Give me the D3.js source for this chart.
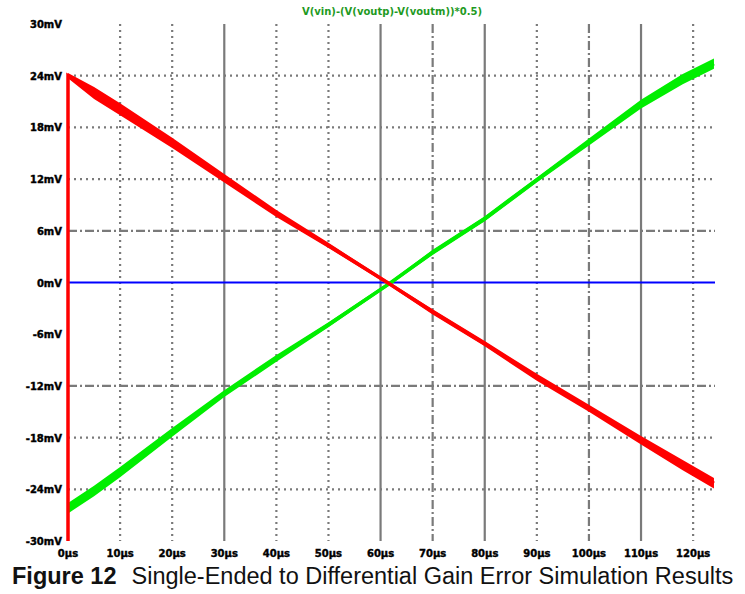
<!DOCTYPE html>
<html>
<head>
<meta charset="utf-8">
<script src="https://cdn.jsdelivr.net/npm/d3@7"></script>
<style>
  body { margin: 0; background: #fff; }
  svg { display: block; }
</style>
</head>
<body>
<div id="chart"></div>
<script>
// data
const xTicks = [0, 10, 20, 30, 40, 50, 60, 70, 80, 90, 100, 110, 120]
const yTicks = [30, 24, 18, 12, 6, 0, -6, -12, -18, -24, -30]

const redT     = [0, 0, 5, 10, 20, 30, 40, 50, 61.3, 70, 80, 90, 100, 110, 118, 124]
const redV     = [-30, 24, 22.0, 20.1, 16.2, 12.1, 8.0, 4.3, 0, -3.4, -7.1, -11.0, -14.6, -18.3, -21.2, -23.3]
const redNoise = [0, 0.3, 0.7, 0.7, 0.6, 0.5, 0.4, 0.3, 0.2, 0.3, 0.3, 0.4, 0.4, 0.5, 0.6, 0.6]

const greenT     = [0, 5, 10, 20, 30, 40, 50, 62, 70, 80, 90, 100, 110, 118, 124]
const greenV     = [-26.2, -24.2, -22.0, -17.4, -12.9, -8.8, -4.9, 0, 3.5, 7.4, 11.9, 16.3, 20.7, 23.6, 25.4]
const greenNoise = [0.6, 0.6, 0.6, 0.5, 0.4, 0.4, 0.3, 0.2, 0.3, 0.3, 0.3, 0.4, 0.5, 0.6, 0.6]

const traceLabel = 'V(vin)-(V(voutp)-V(voutm))*0.5)'

// grid styling per line
const vGridStyle = { 30: 'solid', 60: 'solid', 80: 'solid', 110: 'solid', 70: 'dashdot', 100: 'dashdot' }
const hGridStyle = { 6: 'dashdot', '-12': 'dashdot', 24: 'dot', 18: 'dot', 12: 'dot', '-18': 'dot', '-24': 'dot' }

const width = 745, height = 594
const margin = { left: 68, right: 30, top: 24, bottom: 53 }

const x = d3.scaleLinear().domain([0, 124.2]).range([margin.left, width - margin.right])
const y = d3.scaleLinear().domain([-30, 30]).range([height - margin.bottom, margin.top])

const svg = d3.select('#chart').append('svg')
  .attr('width', width)
  .attr('height', height)

const dashFor = s => s === 'dot' ? '2,4' : s === 'dashdot' ? '9,3,2,3' : null
const tickFont = 'bold 10px "DejaVu Sans", sans-serif'

// vertical grid
svg.append('g')
  .selectAll('line')
  .data(xTicks.filter(d => d > 0))
  .enter()
  .append('line')
    .attr('x1', d => x(d)).attr('x2', d => x(d))
    .attr('y1', y(30)).attr('y2', y(-30))
    .attr('stroke', '#7a7a7a')
    .attr('stroke-width', 2.2)
    .attr('stroke-dasharray', d => dashFor(vGridStyle[d] || 'dot'))

// horizontal grid
svg.append('g')
  .selectAll('line')
  .data(yTicks.filter(d => hGridStyle[d]))
  .enter()
  .append('line')
    .attr('x1', x(0)).attr('x2', x(124.2))
    .attr('y1', d => y(d)).attr('y2', d => y(d))
    .attr('stroke', '#7a7a7a')
    .attr('stroke-width', 2.2)
    .attr('stroke-dasharray', d => dashFor(hGridStyle[d]))

// zero line
svg.append('line')
  .attr('x1', x(0)).attr('x2', x(124.2))
  .attr('y1', y(0)).attr('y2', y(0))
  .attr('stroke', '#0000ff')
  .attr('stroke-width', 2)

const drawTrace = (ts, vs, ns, color) => {
  const pts = ts.map((t, i) => ({ t: t, v: vs[i], n: ns[i] }))
  const band = d3.area()
    .x(d => x(d.t))
    .y0(d => y(d.v - d.n))
    .y1(d => y(d.v + d.n))
  svg.append('path')
    .datum(pts.filter(d => d.n > 0))
    .attr('d', band)
    .attr('fill', color)
  svg.append('path')
    .datum(pts)
    .attr('d', d3.line().x(d => x(d.t)).y(d => y(d.v)))
    .attr('fill', 'none')
    .attr('stroke', color)
    .attr('stroke-width', 3.5)
}

drawTrace(greenT, greenV, greenNoise, '#00ee00')
drawTrace(redT, redV, redNoise, '#ff0000')

// tick labels
svg.append('g')
  .selectAll('text')
  .data(yTicks)
  .enter()
  .append('text')
    .attr('x', margin.left - 6)
    .attr('y', d => y(d) + 4)
    .attr('text-anchor', 'end')
    .style('font', tickFont)
    .attr('stroke', '#000').attr('stroke-width', 0.4)
    .text(d => `${d}mV`)

svg.append('g')
  .selectAll('text')
  .data(xTicks)
  .enter()
  .append('text')
    .attr('x', d => x(d))
    .attr('y', height - margin.bottom + 16)
    .attr('text-anchor', 'middle')
    .style('font', tickFont)
    .attr('stroke', '#000').attr('stroke-width', 0.4)
    .text(d => `${d}µs`)

// trace name on top
svg.append('text')
  .attr('x', 392)
  .attr('y', 15)
  .attr('text-anchor', 'middle')
  .attr('fill', '#1f9a1f')
  .style('font', tickFont)
  .text(traceLabel)

// caption
const cap = svg.append('text')
  .attr('x', 12)
  .attr('y', 584)
  .style('font', '23.5px "Liberation Sans", Arial, sans-serif')
  .attr('fill', '#111')
cap.append('tspan').style('font-weight', 'bold').text('Figure 12')
cap.append('tspan').attr('dx', 15).text('Single-Ended to Differential Gain Error Simulation Results')
</script>
</body>
</html>
